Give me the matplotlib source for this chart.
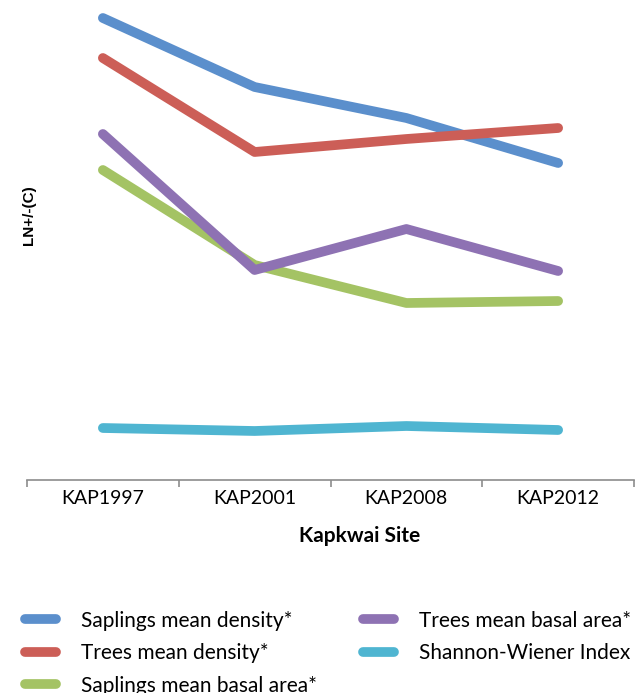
import matplotlib
matplotlib.use("Agg")
import matplotlib.pyplot as plt

# ── Data (arbitrary LN units) ────────────────────────────────────────────────
sites = ["KAP1997", "KAP2001", "KAP2008", "KAP2012"]

saplings_density = [4.62, 3.93, 3.62, 3.17]
trees_density    = [4.22, 3.28, 3.41, 3.52]
saplings_basal   = [3.10, 2.15, 1.77, 1.79]
trees_basal      = [3.46, 2.10, 2.51, 2.09]
shannon_wiener   = [0.52, 0.49, 0.54, 0.50]

series = [
    ("Saplings mean density*",  saplings_density, "#5B8FCC"),
    ("Trees mean density*",     trees_density,    "#CC5E57"),
    ("Saplings mean basal area*", saplings_basal, "#A4C364"),
    ("Trees mean basal area*",  trees_basal,      "#8E72B3"),
    ("Shannon-Wiener Index",    shannon_wiener,   "#4FB5D1"),
]

FONT = "Lato"

# ── Plot ──────────────────────────────────────────────────────────────────────
W, H = 636, 693
fig = plt.figure(figsize=(W / 100, H / 100), dpi=100)
ax = fig.add_axes([27 / W, 1 - 480 / H, (634 - 27) / W, 480 / H])

x = list(range(len(sites)))
for label, vals, color in series:
    ax.plot(x, vals, color=color, linewidth=7, solid_capstyle="round",
            solid_joinstyle="round", label=label)

ax.set_xlim(-0.5, len(sites) - 0.5)
ax.set_ylim(0, 4.80)

for side in ("top", "right", "left"):
    ax.spines[side].set_visible(False)
ax.spines["bottom"].set_color("#8C8C8C")
ax.spines["bottom"].set_linewidth(1.2)

# boundary ticks between categories, labels centred on categories
ax.set_yticks([])
ax.set_xticks([i - 0.5 for i in range(len(sites) + 1)])
ax.set_xticklabels([""] * (len(sites) + 1))
ax.tick_params(axis="x", which="major", direction="out", length=5,
               width=1.2, color="#8C8C8C")
ax.set_xticks(x, minor=True)
ax.set_xticklabels(sites, minor=True, fontsize=14, family=FONT)
ax.tick_params(axis="x", which="minor", length=0, pad=7)

fig.text(29 / W, 1 - 215 / H, "LN+/-(C)", rotation=90, ha="center",
         va="center", fontsize=11, fontweight="bold", family="Liberation Sans")
fig.text(360 / W, 1 - 536 / H, "Kapkwai Site", ha="center", va="center",
         fontsize=15, fontweight="bold", family=FONT)

leg = fig.legend(loc="upper left", bbox_to_anchor=(10 / W, 1 - 596 / H),
                 ncol=2, frameon=False,
                 prop={"family": FONT, "size": 15},
                 handlelength=1.5, handletextpad=1.2, columnspacing=2.2,
                 labelspacing=0.6, borderpad=0.2)
for line in leg.get_lines():
    line.set_linewidth(7)
    line.set_solid_capstyle("round")

fig.savefig("out.png", dpi=100)
